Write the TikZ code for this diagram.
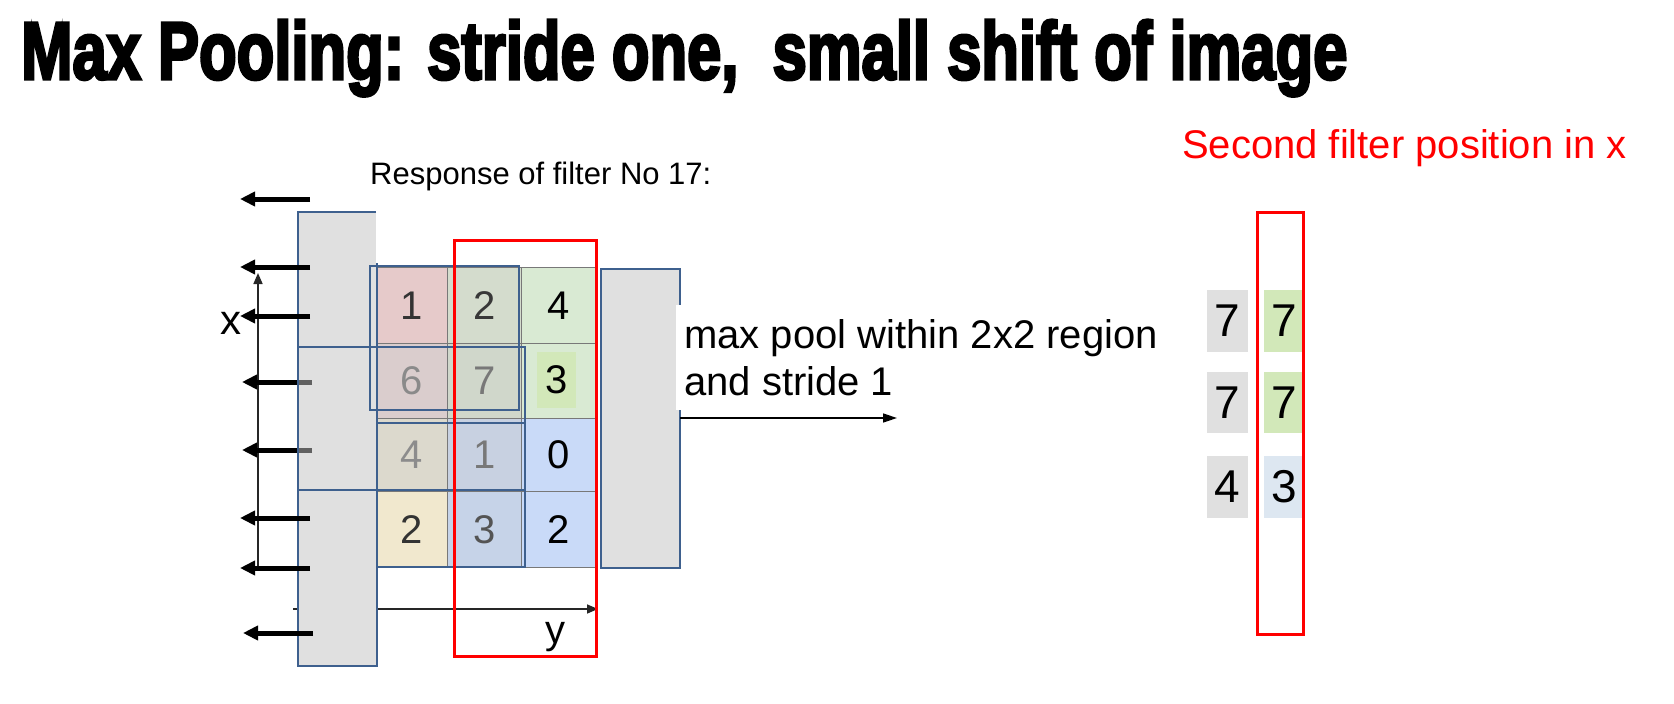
\documentclass[tikz,border=0pt]{standalone}
\usepackage{fontspec}
\setmainfont{Liberation Sans}
\newfontfamily\titlefont{Liberation Sans}[BoldFeatures={FakeBold=4}]
\usetikzlibrary{arrows.meta}
\definecolor{blueln}{RGB}{62,96,142}
\definecolor{grayfill}{RGB}{224,224,224}
\definecolor{gridln}{RGB}{120,120,120}
\definecolor{c11}{RGB}{230,202,202}
\definecolor{c12}{RGB}{212,220,205}
\definecolor{c13}{RGB}{217,234,211}
\definecolor{c21}{RGB}{218,205,205}
\definecolor{c22}{RGB}{208,215,203}
\definecolor{c23}{RGB}{217,234,211}
\definecolor{c31}{RGB}{220,217,205}
\definecolor{c32}{RGB}{200,209,225}
\definecolor{c33}{RGB}{201,218,248}
\definecolor{c41}{RGB}{241,232,206}
\definecolor{c42}{RGB}{198,211,232}
\definecolor{c43}{RGB}{201,218,248}
\definecolor{greenbox}{RGB}{210,232,185}
\definecolor{bluebox}{RGB}{221,231,241}
\definecolor{redln}{RGB}{255,0,0}
\begin{document}
\begin{tikzpicture}[x=1pt,y=-1pt,
  cellbox/.style={draw=gridln, line width=0.8pt, inner sep=0pt, font=\fontsize{40}{44}\selectfont},
  colA/.style={minimum width=71.5pt},
  colB/.style={minimum width=74pt},
  colC/.style={minimum width=73.5pt},
  rowA/.style={minimum height=75.5pt},
  rowB/.style={minimum height=75.5pt},
  rowC/.style={minimum height=72.5pt},
  rowD/.style={minimum height=76.5pt},
  blueframe/.style={draw=blueln, line width=2pt},
  grayblock/.style={fill=grayfill},
  redframe/.style={draw=redln, line width=3pt},
  leftarrow/.style={line width=5pt, -{Triangle[length=15pt,width=14pt]}},
  axisarrow/.style={draw=black!85, line width=1.6pt, -{Triangle[length=11pt,width=9pt]}},
  outbox/.style={inner sep=0pt, minimum width=40.5pt, minimum height=61.7pt, font=\fontsize{46}{50}\selectfont},
  lbl/.style={inner sep=0pt, anchor=base west},
]
\useasboundingbox (0,0) rectangle (1674,704);

% title
\node[lbl] (title) at (21,79) {\resizebox{1326pt}{59pt}{\titlefont\bfseries Max Pooling: stride one,\ \ small shift of image}};

% cells
\node[cellbox, colA, rowA, fill=c11, text=black!80] (c11) at (411.75,305.25) {1};
\node[cellbox, colB, rowA, fill=c12, text=black!78] (c12) at (484.5,305.25) {2};
\node[cellbox, colC, rowA, fill=c13, text=black] (c13) at (558.25,305.25) {4};
\node[cellbox, colA, rowB, fill=c21, text=black!46] (c21) at (411.75,380.75) {6};
\node[cellbox, colB, rowB, fill=c22, text=black!53] (c22) at (484.5,380.75) {7};
\node[cellbox, colC, rowB, fill=c23] (c23) at (558.25,380.75) {};
\node[inner sep=0pt, minimum width=39pt, minimum height=56pt, fill=greenbox, font=\fontsize{40}{44}\selectfont] (n23) at (556.5,380) {3};
\node[cellbox, colA, rowC, fill=c31, text=black!45] (c31) at (411.75,454.75) {4};
\node[cellbox, colB, rowC, fill=c32, text=black!53] (c32) at (484.5,454.75) {1};
\node[cellbox, colC, rowC, fill=c33, text=black] (c33) at (558.25,454.75) {0};
\node[cellbox, colA, rowD, fill=c41, text=black!80] (c41) at (411.75,529.25) {2};
\node[cellbox, colB, rowD, fill=c42, text=black!67] (c42) at (484.5,529.25) {3};
\node[cellbox, colC, rowD, fill=c43, text=black] (c43) at (558.25,529.25) {2};

% axes
\coordinate (xbot) at (258,567);
\coordinate (xtop) at (258,273);
\coordinate (ybeg) at (293,609);
\coordinate (yend) at (598,609);
\draw[axisarrow] (xbot) -- (xtop);
\draw[axisarrow] (ybeg) -- (yend);
\node[lbl, font=\fontsize{42}{46}\selectfont] (xlab) at (220,334) {x};
\node[lbl, font=\fontsize{40}{44}\selectfont] (ylab) at (545,643) {y};

% gray blocks
\fill[grayblock] (298,212) rectangle (376,347);
\fill[grayblock] (298,347) rectangle (376,490);
\fill[grayblock] (298,490) rectangle (377,666);
\draw[blueframe] (376,212) -- (298,212) -- (298,490);
\draw[blueframe] (298,490) rectangle (377,666);
\fill[grayblock] (601,269) rectangle (680,568);
\draw[blueframe] (601,269) rectangle (680,568);

% arrows to the left
\foreach \i/\yy in {1/199,2/267,3/316,5/518,6/568} {
  \coordinate (at\i) at (310,\yy);
  \coordinate (ah\i) at (240,\yy);
  \draw[leftarrow] (at\i) -- (ah\i);
}
\coordinate (at8) at (313,633);
\coordinate (ah8) at (243,633);
\draw[leftarrow] (at8) -- (ah8);
\foreach \i/\yy in {4/382,7/450} {
  \coordinate (as\i) at (312,\yy);
  \coordinate (at\i) at (299,\yy);
  \coordinate (ah\i) at (242,\yy);
  \draw[line width=5pt, draw=black!62] (as\i) -- (at\i);
  \draw[leftarrow] (at\i) -- (ah\i);
}

% pooling windows
\draw[blueframe] (298,347) rectangle (525,490);
\draw[blueframe] (377,263) -- (377,490);
\draw[blueframe] (370,266) rectangle (519,410);
\draw[blueframe] (377,423) rectangle (525,567);

% red frames
\draw[redframe] (454,240) rectangle (596,656);

% texts
\node[lbl, font=\fontsize{31}{36}\selectfont] (resp) at (370,184) {Response of filter No 17:};
\node[lbl, font=\fontsize{40}{46}\selectfont, text=redln] (second) at (1182,158) {Second filter position in x};

\fill[white] (676,305) rectangle (1100,410);
\node[lbl, font=\fontsize{40}{46}\selectfont] (mp1) at (684,348) {max pool within 2x2 region};
\node[lbl, font=\fontsize{40}{46}\selectfont] (mp2) at (684,395) {and stride 1};
\coordinate (mpstart) at (680,418);
\coordinate (mpend) at (897,418);
\draw[line width=1.6pt, -{Triangle[length=14pt,width=9pt]}] (mpstart) -- (mpend);

% output column
\node[outbox, fill=grayfill] (o11) at (1227.5,321) {7};
\node[outbox, fill=grayfill] (o21) at (1227.5,402.5) {7};
\node[outbox, fill=grayfill] (o31) at (1227.5,486.7) {4};
\node[outbox, fill=greenbox] (o12) at (1284.7,321) {7};
\node[outbox, fill=greenbox] (o22) at (1284.7,402.5) {7};
\node[outbox, fill=bluebox] (o32) at (1284.7,486.7) {3};
\draw[redframe] (1257,212) rectangle (1303,634);
\end{tikzpicture}
\end{document}
